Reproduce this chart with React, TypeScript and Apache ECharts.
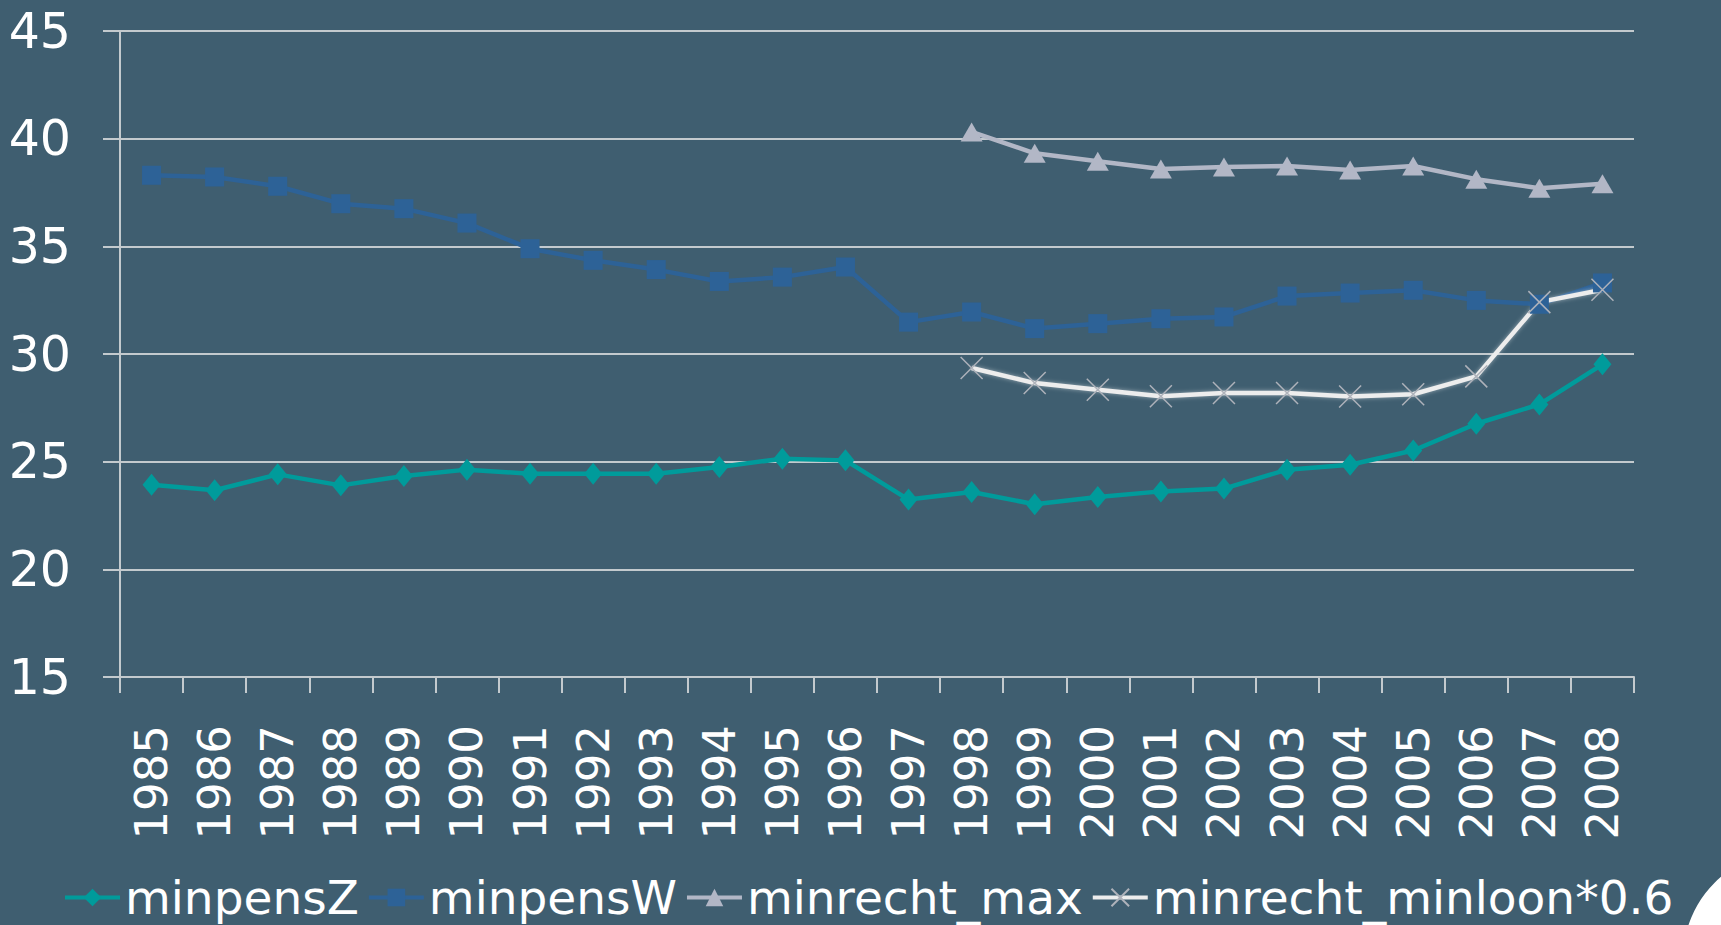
import React, { useEffect, useRef } from "react";
import * as echarts from "echarts";

const years = [
  "1985", "1986", "1987", "1988", "1989", "1990", "1991", "1992", "1993", "1994", "1995", "1996",
  "1997", "1998", "1999", "2000", "2001", "2002", "2003", "2004", "2005", "2006", "2007", "2008",
];

const minpensZ = [
  23.93, 23.67, 24.41, 23.9, 24.33, 24.63, 24.44, 24.44, 24.44, 24.75, 25.14, 25.06,
  23.24, 23.59, 23.02, 23.36, 23.62, 23.75, 24.63, 24.86, 25.52, 26.76, 27.66, 29.52,
];

const minpensW = [
  38.3, 38.22, 37.79, 36.98, 36.75, 36.08, 34.89, 34.35, 33.92, 33.37, 33.57, 34.04,
  31.48, 31.95, 31.18, 31.41, 31.64, 31.72, 32.69, 32.83, 32.96, 32.49, 32.31, 33.3,
];

const minrechtMax = [
  null, null, null, null, null, null, null, null, null, null, null, null,
  null, 40.31, 39.32, 38.95, 38.59, 38.68, 38.73, 38.55, 38.73, 38.12, 37.7, 37.91,
];

const minrechtMinloon = [
  null, null, null, null, null, null, null, null, null, null, null, null,
  null, 29.35, 28.65, 28.34, 28.04, 28.19, 28.19, 28.03, 28.13, 28.96, 32.41, 32.98,
];

const seriesNames = ["minpensZ", "minpensW", "minrecht_max", "minrecht_minloon*0.6"];

const Y_MIN = 15;
const Y_MAX = 45;
const Y_STEP = 5;

const FONT = "DejaVu Sans";
const BG = "#3f5e70";
const GRID_COLOR = "#c3cace";

export default function App() {
  const ref = useRef<HTMLDivElement>(null);

  useEffect(() => {
    if (!ref.current) return;
    const chart = echarts.init(ref.current, null, { renderer: "svg" });
    chart.setOption({
      animation: false,
      backgroundColor: BG,
      grid: { left: 120, right: 87, top: 31, bottom: 248 },
      xAxis: {
        type: "category",
        data: years,
        boundaryGap: true,
        axisLine: { show: true, lineStyle: { color: GRID_COLOR, width: 2 } },
        axisTick: { show: true, length: 16, lineStyle: { color: GRID_COLOR, width: 2 } },
        axisLabel: {
          rotate: 90,
          margin: 48,
          color: "#ffffff",
          fontFamily: FONT,
          fontSize: 45,
          interval: 0,
        },
        splitLine: { show: false },
      },
      yAxis: {
        type: "value",
        min: Y_MIN,
        max: Y_MAX,
        interval: Y_STEP,
        axisLine: { show: true, lineStyle: { color: GRID_COLOR, width: 2 } },
        axisTick: { show: true, length: 17, lineStyle: { color: GRID_COLOR, width: 2 } },
        axisLabel: {
          margin: 49,
          color: "#ffffff",
          fontFamily: FONT,
          fontSize: 49,
        },
        splitLine: { show: true, lineStyle: { color: GRID_COLOR, width: 2 } },
      },
      legend: {
        data: seriesNames,
        left: 58,
        top: 869,
        width: 1700,
        itemWidth: 55,
        itemHeight: 22,
        itemGap: 8,
        lineStyle: { width: 4 },
        textStyle: { color: "#ffffff", fontFamily: FONT, fontSize: 47 },
      },
      series: [
        {
          name: seriesNames[0],
          type: "line",
          data: minpensZ,
          symbol: "diamond",
          symbolSize: [18, 22],
          lineStyle: { color: "#009b9b", width: 4.5 },
          itemStyle: { color: "#009b9b" },
        },
        {
          name: seriesNames[1],
          type: "line",
          data: minpensW,
          symbol: "rect",
          symbolSize: [19, 19],
          lineStyle: { color: "#2d6297", width: 4.5 },
          itemStyle: { color: "#2d6297" },
        },
        {
          name: seriesNames[2],
          type: "line",
          data: minrechtMax,
          symbol: "triangle",
          symbolSize: [22, 19],
          lineStyle: { color: "#b2b7c6", width: 4.5 },
          itemStyle: { color: "#b2b7c6" },
        },
        {
          name: seriesNames[3],
          type: "line",
          data: minrechtMinloon,
          symbol: "path://M0,0L10,10M10,0L0,10",
          symbolSize: 22,
          lineStyle: {
            color: "#ededed",
            width: 4.5,
            shadowColor: "rgba(255,255,255,0.45)",
            shadowBlur: 4,
          },
          itemStyle: { color: "rgba(0,0,0,0)", borderColor: "#aeb2ba", borderWidth: 1.5 },
        },
      ],
      graphic: [
        {
          type: "circle",
          shape: { cx: 1791, cy: 959, r: 108 },
          style: { fill: "#ffffff" },
          z: 100,
        },
      ],
    });
    return () => chart.dispose();
  }, []);

  return (
    <div
      ref={ref}
      style={{ position: "fixed", left: 0, top: 0, width: 1721, height: 925 }}
    />
  );
}
